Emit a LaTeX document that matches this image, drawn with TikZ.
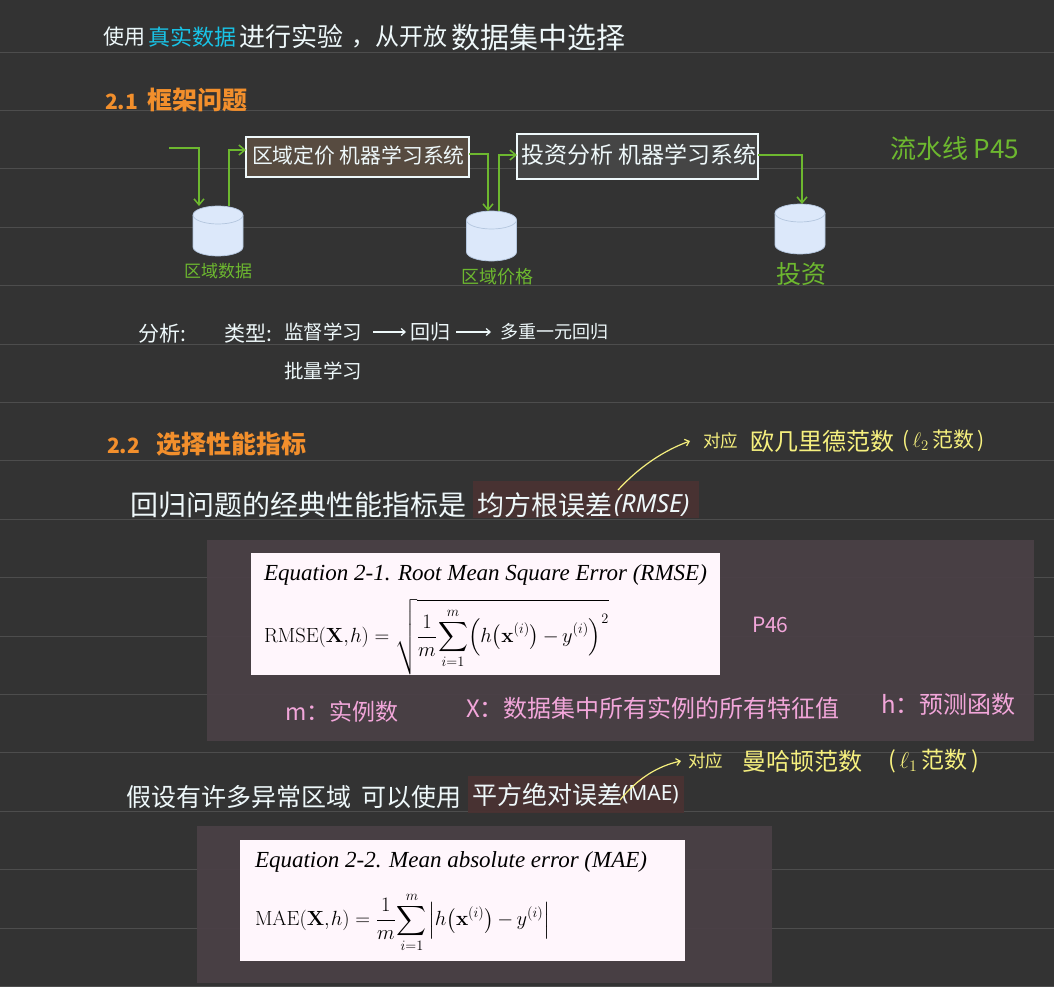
\documentclass[tikz,border=0pt]{standalone}
\usepackage{fix-cm}
\usepackage{amsmath}
\usepackage[no-math]{fontspec}
\setmainfont{Noto Sans CJK SC}
\newfontfamily\eqfont{Liberation Serif}
\newfontfamily\latinfont{Noto Sans}
\usetikzlibrary{positioning,arrows.meta}

\definecolor{pagebg}{HTML}{333333}
\definecolor{ruleline}{HTML}{4D4D4D}
\definecolor{flowgreen}{HTML}{6DB82F}
\definecolor{headorange}{HTML}{F28F2C}
\definecolor{inkcyan}{HTML}{19C3E6}
\definecolor{inkyellow}{HTML}{F6F07E}
\definecolor{inkpink}{HTML}{F2A6DA}
\definecolor{inkwhite}{HTML}{EEF8FA}
\definecolor{panelbg}{HTML}{4A4046}
\definecolor{markbg}{HTML}{4A3232}
\definecolor{eqpaper}{HTML}{FFF6FC}
\definecolor{cylfill}{HTML}{DCE8FA}
\definecolor{cylline}{HTML}{B4C6DE}
\definecolor{zonefill}{HTML}{574B40}
\definecolor{investfill}{HTML}{454545}

\newcommand{\fs}[1]{\fontsize{#1}{#1}\selectfont}
\newcommand{\tightmath}{\thinmuskip=1mu \medmuskip=3mu \thickmuskip=5mu}

\tikzset{
	note/.style={anchor=west, inner sep=0pt, outer sep=0pt, text=inkwhite},
	head/.style={note, text=headorange, font=\fs{25}\bfseries},
	greenlabel/.style={note, text=flowgreen},
	yellowlabel/.style={note, text=inkyellow},
	pinklabel/.style={note, text=inkpink},
	sysbox/.style={anchor=north west, inner sep=0pt, outer sep=0pt, line width=1.6pt},
	store/.style={anchor=north, inner sep=0pt, outer sep=0pt, minimum width=50pt, minimum height=50pt},
	flow/.style={draw=flowgreen, line width=1.5pt, -{Straight Barb[length=6pt,width=10pt]}},
	inkarrow/.style={draw=inkwhite, line width=1.2pt, -{Straight Barb[length=4pt,width=7pt]}},
	noteflow/.style={draw=inkyellow, line width=1.2pt, -{Straight Barb[length=4pt,width=7pt]}},
	panel/.style={anchor=north west, inner sep=0pt, outer sep=0pt, fill=panelbg, fill opacity=.93},
	hlmark/.style={anchor=north west, inner sep=0pt, outer sep=0pt, fill=markbg, fill opacity=.93},
	paper/.style={anchor=north west, inner sep=0pt, outer sep=0pt, fill=eqpaper},
	eqtitle/.style={anchor=west, inner sep=0pt, outer sep=0pt, text=black, font=\eqfont\itshape\fs{23}},
	eqbody/.style={anchor=west, inner sep=0pt, outer sep=0pt, text=black, font=\fs{20.5}\tightmath},
}

\begin{document}
\begin{tikzpicture}[x=1pt, y=-1pt]
	\useasboundingbox (0,0) rectangle (1054,987);
	\fill[pagebg] (0,0) rectangle (1054,987);
	\foreach \k in {0,...,16} {
		\draw[ruleline, line width=.9pt] (0,52+58.4*\k) -- (1054,52+58.4*\k);
	}

	\node [note, font=\fs{21}] (use) at (103,37) {使用};
	\node [note, font=\fs{22}, text=inkcyan, right=3pt of use] (real) {真实数据};
	\node [note, font=\fs{26}, right=3pt of real] (test) {进行实验};
	\node [note, font=\fs{24}, right=8pt of test] (from) {，从开放};
	\node [note, font=\fs{29}, right=4pt of from] (pick) {数据集中选择};

	\node [head] (h21) at (105,100) {{\fs{21}2.1}\hspace{10pt}框架问题};

	\node [sysbox, draw=inkwhite, fill=zonefill, minimum width=223pt, minimum height=40pt] (zonesys) at (246,137) {};
	\node [note, font=\fs{20.8}] (zonetext) at (252,156) {区域定价\ 机器学习系统};
	\node [sysbox, draw=inkwhite, fill=investfill, minimum width=241pt, minimum height=45pt] (investsys) at (517,134) {};
	\node [note, font=\fs{23}] (investtext) at (521,155) {投资分析\ 机器学习系统};

	\node [store] (zonedata) at (218,206) {};
	\node [store] (zoneprice) at (491.5,211) {};
	\node [store] (invest) at (800,204) {};
	\foreach \n in {zonedata,zoneprice,invest} {
		\draw[cylline, fill=cylfill, line width=.7pt] ([yshift=-9pt]\n.north west) arc[start angle=180, end angle=0, x radius=25pt, y radius=9pt]
			-- ([yshift=9pt]\n.south east) arc[start angle=0, end angle=-180, x radius=25pt, y radius=9pt] -- cycle;
		\draw[cylline, line width=.7pt] ([yshift=-9pt]\n.north west) arc[start angle=180, end angle=360, x radius=25pt, y radius=9pt];
	}
	\node [greenlabel, font=\fs{17}] (zonedatatext) at (184,271) {区域数据};
	\node [greenlabel, font=\fs{18}] (zonepricetext) at (461,277) {区域价格};
	\node [greenlabel, font=\fs{25}] (investtextb) at (776,274) {投资};
	\node [greenlabel, font=\fs{26}] (pipeline) at (890,149) {流水线\ P45};

	\coordinate (inflow) at (169,148);
	\draw[flow] (inflow) -| ([xshift=-19pt]zonedata.north);
	\draw[flow] ([xshift=11pt]zonedata.north) |- ([yshift=7pt]zonesys.west);
	\draw[flow] ([yshift=3pt]zonesys.east) -| ([xshift=-3.5pt]zoneprice.north);
	\draw[flow] ([xshift=7.5pt]zoneprice.north) |- ([yshift=1.5pt]investsys.west);
	\draw[flow] ([yshift=1.5pt]investsys.east) -| ([xshift=2pt]invest.north);

	\node [note, font=\fs{21}] (analysis) at (138,334) {分析:};
	\node [note, font=\fs{21}, right=39pt of analysis] (kind) {类型:};
	\node [note, font=\fs{19.5}] (superv) at (284,332) {监督学习};
	\node [note, font=\fs{20}] (regress) at (410,332) {回归};
	\node [note, font=\fs{18}] (multi) at (500,332) {多重一元回归};
	\node [note, font=\fs{19.5}] (batch) at (284,371) {批量学习};
	\draw[inkarrow] ([xshift=11pt]superv.east) -- ([xshift=-4pt]regress.west);
	\draw[inkarrow] ([xshift=6pt]regress.east) -- ([xshift=-9pt]multi.west);

	\node [head] (h22) at (107,444) {{\fs{21}2.2}\hspace{17pt}选择性能指标};

	\node [note, font=\fs{28}] (rmseintro) at (130,505) {回归问题的经典性能指标是};
	\node [hlmark, minimum width=226pt, minimum height=37pt] (rmsemark) at (473,481) {};
	\node [note, font=\fs{27}] (rmsename) at (477,505) {均方根误差};
	\node [note, font=\latinfont\itshape\fs{25}, right=2pt of rmsename] (rmseabbr) {(RMSE)};
	\node [yellowlabel, font=\fs{17.5}] (rmsenote) at (703,441) {对应};
	\node [yellowlabel, font=\fs{24}, right=12pt of rmsenote] (l2name) {欧几里德范数};
	\node [yellowlabel, font=\fs{21}, right=8pt of l2name] (l2tag) {(\,$\ell_2$\,范数\,)};
	\coordinate (rmsefoot) at (618,490);
	\draw[noteflow] (rmsefoot) .. controls (640,466) and (665,450) .. ([xshift=-13pt]rmsenote.west);

	\node [panel, minimum width=827pt, minimum height=201pt] (rmsepanel) at (207,540) {};
	\node [paper, minimum width=469pt, minimum height=122pt] (rmsepaper) at (251,553) {};
	\node [eqtitle] (rmsetitle) at (264,575) {Equation 2-1. Root Mean Square Error (RMSE)};
	\node [eqbody] (rmseeq) at (264,637) {$\mathrm{RMSE}(\mathbf{X},h)=\sqrt{\dfrac{1}{m}\displaystyle\sum_{\smash[b]{i=1}}^{m}\Bigl(h\bigl(\mathbf{x}^{(i)}\bigr)-y^{(i)}\Bigr)^{2}}$};
	\node [pinklabel, font=\fs{21}] (page46) at (752,625) {P46};
	\node [pinklabel, font=\fs{23}] (mtext) at (285,712) {m：实例数};
	\node [pinklabel, font=\fs{24}] (xtext) at (466,708) {X：数据集中所有实例的所有特征值};
	\node [pinklabel, font=\fs{24}] (htext) at (881,704) {h：预测函数};

	\node [note, font=\fs{25}] (maeintro) at (126,797) {假设有许多异常区域\hspace{10pt}可以使用};
	\node [hlmark, minimum width=216pt, minimum height=37pt] (maemark) at (468,776) {};
	\node [note, font=\fs{25}] (maename) at (472,795) {平方绝对误差};
	\node [note, font=\latinfont\fs{21}, right=0pt of maename] (maeabbr) {(MAE)};
	\node [yellowlabel, font=\fs{17.5}] (maenote) at (688,761) {对应};
	\node [yellowlabel, font=\fs{24}, right=19pt of maenote] (l1name) {曼哈顿范数};
	\node [yellowlabel, font=\fs{23}, right=26pt of l1name] (l1tag) {(\,$\ell_1$\,范数\,)};
	\coordinate (maefoot) at (620,800);
	\draw[noteflow] (maefoot) .. controls (638,778) and (658,766) .. ([xshift=-7pt]maenote.west);

	\node [panel, minimum width=575pt, minimum height=157pt] (maepanel) at (197,826) {};
	\node [paper, minimum width=445pt, minimum height=121pt] (maepaper) at (240,840) {};
	\node [eqtitle] (maetitle) at (255,862) {Equation 2-2. Mean absolute error (MAE)};
	\node [eqbody] (maeeq) at (255,922) {$\mathrm{MAE}(\mathbf{X},h)=\dfrac{1}{m}\displaystyle\sum_{i=1}^{m}\,\Bigl|h\bigl(\mathbf{x}^{(i)}\bigr)-y^{(i)}\Bigr|$};
\end{tikzpicture}
\end{document}
